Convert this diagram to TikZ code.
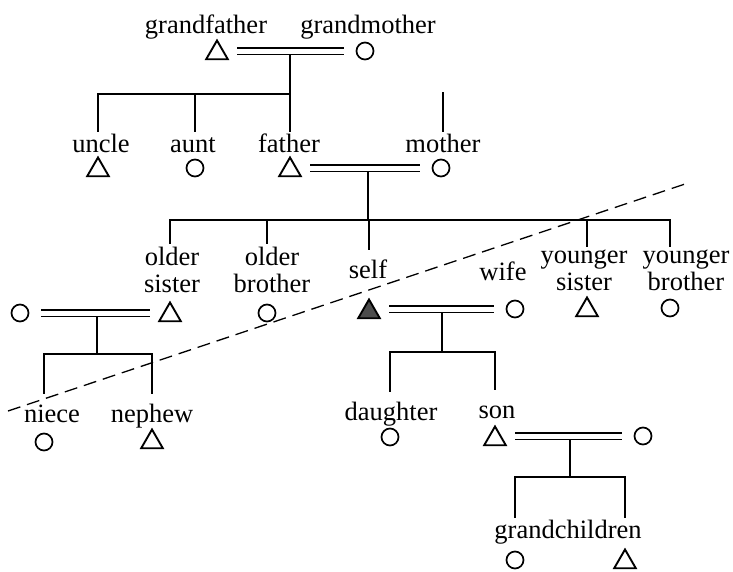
\documentclass[tikz,border=0pt]{standalone}
\usepackage{fontspec}
\setmainfont{Liberation Serif}
\usetikzlibrary{shapes.geometric}
\begin{document}
\begin{tikzpicture}[x=1pt,y=-1pt,
  lblbase/.style={font=\fontsize{26.5}{27}\selectfont, anchor=base, inner sep=2pt, align=center},
  lbl/.style={lblbase, text height=18pt},
  lbltwo/.style={lblbase},
  male/.style={regular polygon, regular polygon sides=3, draw, line width=1.9pt, minimum size=25pt, inner sep=0pt},
  female/.style={circle, draw, line width=1.7pt, minimum size=17pt, inner sep=0pt},
  selfmark/.style={male, fill=black!70},
  wed/.style={double, double distance=5pt, line width=1.6pt, shorten <=12pt, shorten >=12pt},
  link/.style={line width=1.6pt},
  far/.style={shorten >=8pt},
  divide/.style={line width=1.3pt, dash pattern=on 13pt off 7pt}
]
\useasboundingbox (0,0) rectangle (733,571);

% ---- generation 1
\node[lbl] (gfL) at (206,33) {grandfather};
\node[lbl] (gmL) at (368,33) {grandmother};
\node[male] (gf) at (217,53) {};
\node[female] (gm) at (365,51) {};

% ---- generation 2
\node[lbl] (uncleL) at (101,152) {uncle};
\node[lbl] (auntL) at (193,152) {aunt};
\node[lbl] (fatherL) at (289,152) {father};
\node[lbl] (motherL) at (443,152) {mother};
\node[male] (uncle) at (98,170) {};
\node[female] (aunt) at (195,168) {};
\node[male] (father) at (290,170) {};
\node[female] (mother) at (441,168) {};

% ---- generation 3
\node[lbltwo] (osL) at (172,292) {older\\sister};
\node[lbltwo] (obL) at (272,292) {older\\brother};
\node[lbl] (selfL) at (368,278) {self};
\node[lbl] (wifeL) at (503,280) {wife};
\node[lbltwo] (ysL) at (584,290) {younger\\sister};
\node[lbltwo] (ybL) at (686,290) {younger\\brother};
\node[female] (osp) at (20,313) {};
\node[male] (os) at (170,315) {};
\node[female] (ob) at (267,313) {};
\node[selfmark] (self) at (369,312) {};
\node[female] (wife) at (515,309) {};
\node[male] (ys) at (587,310) {};
\node[female] (yb) at (670,308) {};

% ---- generation 4
\node[lbl] (nieceL) at (52,422) {niece};
\node[lbl] (nephewL) at (152,422) {nephew};
\node[lbl] (daughterL) at (391,420) {daughter};
\node[lbl] (sonL) at (497,418) {son};
\node[female] (niece) at (44,442) {};
\node[male] (nephew) at (152,442) {};
\node[female] (daughter) at (390,437) {};
\node[male] (son) at (495,439) {};
\node[female] (sonw) at (643,436) {};

% ---- generation 5
\node[lbl] (gcL) at (568,538) {grandchildren};
\node[female] (gc1) at (515,560) {};
\node[male] (gc2) at (625,562) {};

% ---- junctions
\coordinate (j1) at (290,94);
\coordinate (mtop) at (443,92);
\coordinate (j2) at (368,220);
\coordinate (j3) at (97,354);
\coordinate (j4) at (442,352);
\coordinate (j5) at (570,477);
\coordinate (d1) at (8,411);
\coordinate (d2) at (688,183);

% ---- descent lines
\draw[link] (j1) -- (j1 |- gm);
\draw[link] (j1) -| (uncleL.north -| uncle);
\draw[link] (j1) -| (auntL.north -| aunt);
\draw[link] (j1) -- (fatherL.north -| father);
\draw[link] (mtop) -- (mtop |- motherL.north);

\draw[link] (j2) -- (j2 |- mother);
\draw[link] (j2) -| (osL.north -| os);
\draw[link] (j2) -| (obL.north -| ob);
\draw[link, far] (j2) -| (selfL.north -| self);
\draw[link] (j2) -| (ysL.north -| ys);
\draw[link] (j2) -| (ybL.north -| yb);

\draw[link] (j3) -- (j3 |- osp);
\draw[link, far] (j3) -| (nieceL.north -| niece);
\draw[link, far] (j3) -| (nephewL.north -| nephew);

\draw[link] (j4) -- (j4 |- wife);
\draw[link, far] (j4) -| (daughterL.north -| daughter);
\draw[link, far] (j4) -| (sonL.north -| son);

\draw[link] (j5) -- (j5 |- sonw);
\draw[link] (j5) -| (gcL.north -| gc1);
\draw[link] (j5) -| (gcL.north -| gc2);

% ---- marriages
\draw[wed] (gf.east |- gm.center) -- (gm.west);
\draw[wed] (father.east |- mother.center) -- (mother.west);
\draw[wed] (osp.east) -- (os.west |- osp.center);
\draw[wed] (self.east |- wife.center) -- (wife.west);
\draw[wed] (son.east |- sonw.center) -- (sonw.west);

% ---- dividing line
\draw[divide] (d1) -- (d2);
\end{tikzpicture}
\end{document}
